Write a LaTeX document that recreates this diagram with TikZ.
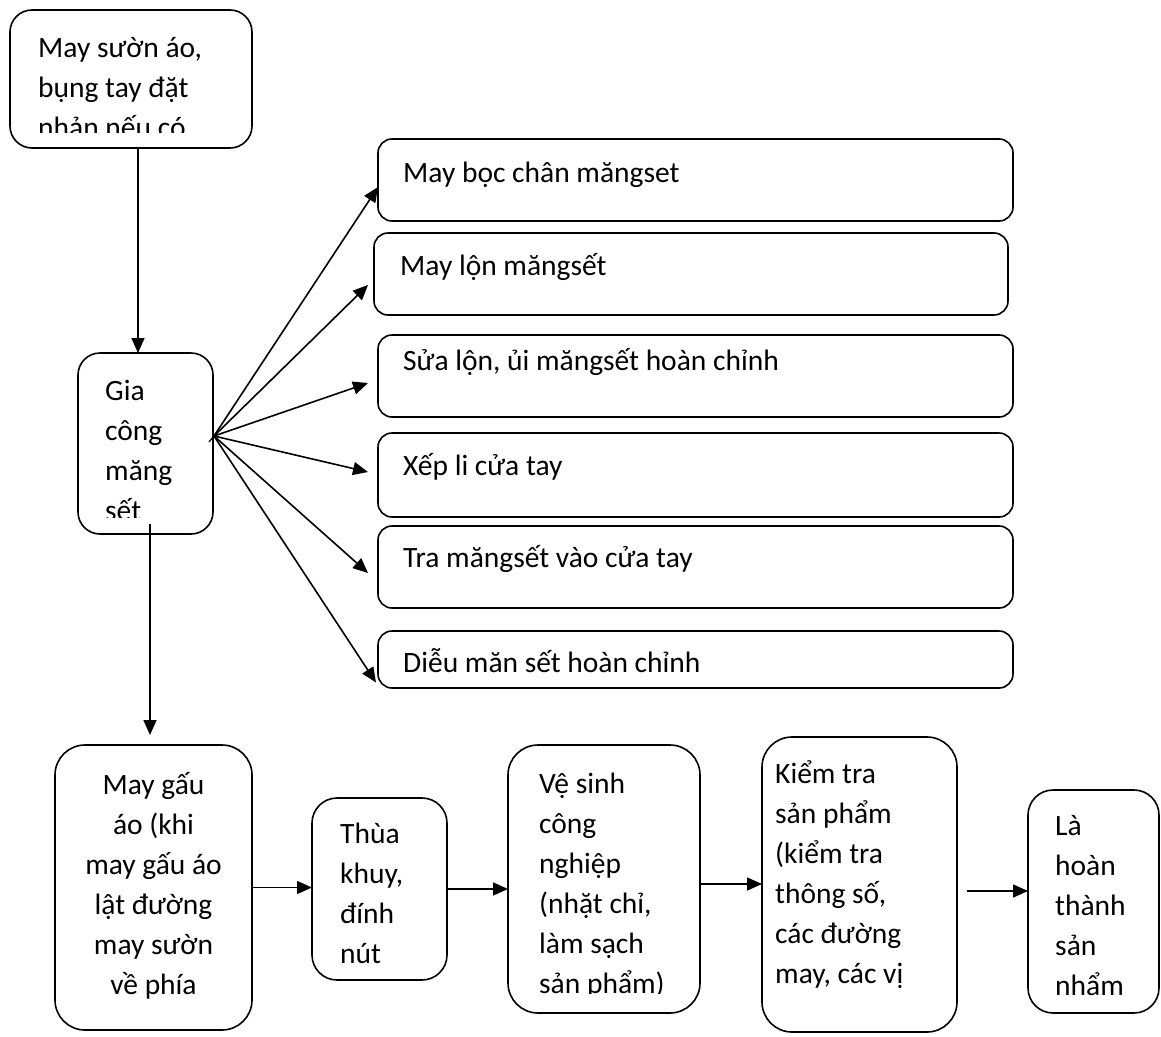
\documentclass[tikz,border=0pt]{standalone}
\usepackage{fontspec}
\setmainfont{Carlito}
\usepackage{tikz}
\usetikzlibrary{arrows.meta, positioning, calc}

\newcommand\lnstrut{\rule{0pt}{30pt}}
\tikzset{
  box/.style={draw, line width=1.6pt, rounded corners=#1, anchor=north west,
    inner sep=0pt, outer sep=0pt},
  txt/.style={inner sep=0pt, anchor=north west, align=left,
    font=\fontsize{29.5}{40}\selectfont},
  arr/.style={-{Triangle[length=15pt,width=13pt]}, line width=1.6pt},
}

\begin{document}
\begin{tikzpicture}[x=1pt, y=-1pt]
  \useasboundingbox (0,0) rectangle (1161,1036);

  % boxes
  \node[box=22pt, minimum width=242pt, minimum height=138pt] (suon) at (10,10) {};
  \node[box=22pt, minimum width=135pt, minimum height=181pt] (gia) at (78,353) {};
  \node[box=14pt, minimum width=635pt, minimum height=82pt] (boc) at (378,139) {};
  \node[box=14pt, minimum width=634pt, minimum height=82pt] (lon) at (374,233) {};
  \node[box=14pt, minimum width=635pt, minimum height=82pt] (sua) at (378,335) {};
  \node[box=14pt, minimum width=635pt, minimum height=84pt] (xep) at (378,433) {};
  \node[box=14pt, minimum width=635pt, minimum height=82pt] (tra) at (378,526) {};
  \node[box=14pt, minimum width=635pt, minimum height=57pt] (dieu) at (378,631) {};
  \node[box=30pt, minimum width=197pt, minimum height=285pt] (gau) at (55,745) {};
  \node[box=25pt, minimum width=135pt, minimum height=182pt] (thua) at (312,798) {};
  \node[box=30pt, minimum width=192pt, minimum height=268pt] (vesinh) at (508,745) {};
  \node[box=30pt, minimum width=195pt, minimum height=295pt] (kiem) at (762,737) {};
  \node[box=25pt, minimum width=131pt, minimum height=223pt] (hoan) at (1028,790) {};

  % texts
  \begin{scope}
    \clip (suon.north west) rectangle (suon.east |- 0,132);
    \node[txt] (suon-t) at (38,27) {\lnstrut May sườn áo,\\ bụng tay đặt\\ nhản nếu có};
  \end{scope}
  \begin{scope}
    \clip (gia.north west) rectangle (gia.east |- 0,517);
    \node[txt] (gia-t) at (105,370) {\lnstrut Gia\\ công\\ măng\\ sết};
  \end{scope}
  \node[txt] (boc-t) at (403,152) {\lnstrut May bọc chân măngset};
  \node[txt] (lon-t) at (400,245) {\lnstrut May lộn măngsết};
  \node[txt] (sua-t) at (403,340) {\lnstrut Sửa lộn, ủi măngsết hoàn chỉnh};
  \node[txt] (xep-t) at (403,445) {\lnstrut Xếp li cửa tay};
  \node[txt] (tra-t) at (403,537) {\lnstrut Tra măngsết vào cửa tay};
  \node[txt] (dieu-t) at (403,642) {\lnstrut Diễu măn sết hoàn chỉnh};
  \node[txt, align=center, anchor=north] (gau-t) at (153.5,764)
    {\lnstrut May gấu\\ áo (khi\\ may gấu áo\\ lật đường\\ may sườn\\ về phía};
  \node[txt] (thua-t) at (340,813) {\lnstrut Thùa\\ khuy,\\ đính\\ nút};
  \begin{scope}
    \clip (vesinh.north west) rectangle (vesinh.east |- 0,993);
    \node[txt] (vesinh-t) at (539,763)
      {\lnstrut Vệ sinh\\ công\\ nghiệp\\ (nhặt chỉ,\\ làm sạch\\ sản phẩm)};
  \end{scope}
  \begin{scope}
    \clip (kiem.north west) rectangle (kiem.east |- 0,1008);
    \node[txt] (kiem-t) at (775,753)
      {\lnstrut Kiểm tra\\ sản phẩm\\ (kiểm tra\\ thông số,\\ các đường\\ may, các vị};
  \end{scope}
  \begin{scope}
    \clip (hoan.north west) rectangle (hoan.east |- 0,995);
    \node[txt] (hoan-t) at (1055,805) {\lnstrut Là\\ hoàn\\ thành\\ sản\\ nhẩm};
  \end{scope}

  % connectors
  \draw[arr] ([xshift=7pt]suon.south) -- ([xshift=7pt]suon.south |- gia.north);
  \coordinate (fan) at (214,436);
  \draw[line width=1.2pt] (209,442) -- (217,432);
  \draw[arr] (fan) -- ([yshift=-7pt]boc.west);
  \draw[arr] (fan) -- ([xshift=-6pt,yshift=-11pt]lon.west);
  \draw[arr] (fan) -- ([xshift=-10pt,yshift=-7pt]sua.west);
  \draw[arr] (fan) -- ([xshift=-10pt,yshift=3pt]xep.west);
  \draw[arr] (fan) -- ([xshift=-10pt,yshift=-6pt]tra.west);
  \draw[arr] (fan) -- ([xshift=-2pt,yshift=-23pt]dieu.west);
  \draw[arr] ([xshift=4.5pt,yshift=10pt]gia.south) -- ([xshift=4.5pt,yshift=10pt]gia.south |- gau.north);
  \draw[arr] (gau.east) -- (gau.east -| thua.west);
  \draw[arr] (thua.east) -- (thua.east -| vesinh.west);
  \draw[arr] ([yshift=-5pt]vesinh.east) -- ([yshift=-5pt]vesinh.east -| kiem.west);
  \draw[arr] ([xshift=10pt,yshift=-6.5pt]kiem.east) -- ([yshift=-6.5pt]kiem.east -| hoan.west);
\end{tikzpicture}
\end{document}
